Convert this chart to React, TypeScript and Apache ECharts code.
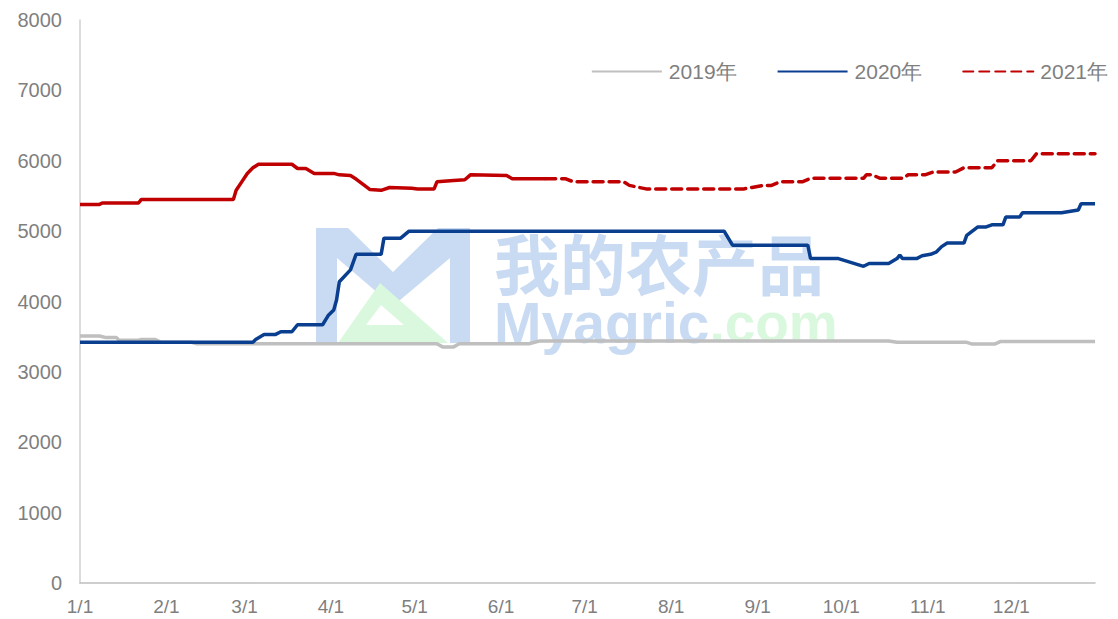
import React, { useEffect, useRef } from "react";
import * as echarts from "echarts";

const monthDays = [31, 28, 31, 30, 31, 30, 31, 31, 30, 31, 30, 31];
const categories: string[] = monthDays.flatMap((n, m) =>
  Array.from({ length: n }, (_, d) => `${m + 1}/${d + 1}`)
);

const yTicks = { min: 0, max: 8000, interval: 1000 };

const s2019: [number, number][] = [
  [0, 3510], [7, 3510], [9, 3490], [13, 3490], [14, 3450], [21, 3450], [22, 3460], [27, 3460],
  [29, 3420], [40, 3420], [42, 3400], [128, 3400], [130, 3355], [134, 3355], [136, 3400],
  [161, 3400], [163, 3420], [165, 3440], [290, 3440], [293, 3420], [318, 3420], [320, 3395],
  [328, 3395], [330, 3430], [364, 3430],
];

const s2020: [number, number][] = [
  [0, 3420], [62, 3420], [63, 3460], [66, 3530], [70, 3530], [72, 3570], [76, 3570], [78, 3670],
  [87, 3670], [89, 3800], [91, 3880], [92, 4020], [93, 4280], [97, 4450], [99, 4670], [108, 4670],
  [109, 4900], [115, 4900], [118, 5000], [231, 5000], [234, 4800], [261, 4800], [262, 4610],
  [272, 4610], [281, 4500], [283, 4540], [290, 4540], [293, 4610], [294, 4660], [295, 4610],
  [300, 4610], [302, 4650], [305, 4670], [307, 4700], [309, 4780], [311, 4830], [317, 4830],
  [318, 4940], [322, 5060], [325, 5060], [327, 5090], [331, 5090], [332, 5200], [337, 5200],
  [338, 5260], [352, 5260], [358, 5300], [359, 5390], [364, 5390],
];

const s2021Solid: [number, number][] = [
  [0, 5380], [7, 5380], [8, 5400], [21, 5400], [22, 5450], [55, 5450], [56, 5580], [58, 5700],
  [60, 5820], [62, 5900], [64, 5950], [76, 5950], [78, 5890], [81, 5890], [84, 5820], [91, 5820],
  [93, 5800], [97, 5790], [99, 5740], [102, 5650], [104, 5590], [108, 5580], [111, 5620],
  [119, 5610], [121, 5600], [127, 5600], [128, 5700], [134, 5720], [138, 5730], [140, 5800],
  [153, 5790], [155, 5745], [167, 5745],
];

const s2021Dashed: [number, number][] = [
  [167, 5745], [174, 5745], [177, 5700], [195, 5700], [197, 5650], [203, 5600], [238, 5600],
  [241, 5620], [245, 5650], [248, 5650], [251, 5700], [259, 5700], [262, 5750], [281, 5750],
  [282, 5800], [284, 5800], [287, 5750], [295, 5750], [297, 5800], [303, 5800], [306, 5840],
  [314, 5840], [317, 5900], [327, 5900], [329, 6000], [341, 6000], [343, 6100], [364, 6100],
];

const legendNames = ["2019年", "2020年", "2021年"];

const GREY = "#bfbfbf";
const BLUE = "#0a3f8f";
const RED = "#c00000";
const LABEL = "#7f7f7f";
const WM_BLUE = "#c9dbf3";
const WM_GREEN = "#d9f8de";

export default function App() {
  const ref = useRef<HTMLDivElement>(null);
  useEffect(() => {
    if (!ref.current) return;
    const chart = echarts.init(ref.current, null, { renderer: "svg" });
    chart.setOption({
      animation: false,
      backgroundColor: "#ffffff",
      grid: { left: 80, right: 23, top: 20, bottom: 36, containLabel: false },
      legend: {
        data: legendNames,
        right: 5,
        top: 56,
        itemWidth: 70,
        itemHeight: 14,
        itemGap: 40,
        itemStyle: { opacity: 0 },
        textStyle: {
          color: LABEL,
          fontSize: 21,
          fontFamily: "'Liberation Sans Narrow', 'Liberation Sans', sans-serif",
          padding: [0, 0, 0, 2],
        },
      },
      xAxis: {
        type: "category",
        data: categories,
        boundaryGap: false,
        axisLine: { lineStyle: { color: GREY, width: 1.5 } },
        axisTick: { show: false },
        splitLine: { show: false },
        axisLabel: {
          interval: (_i: number, v: string) => v.endsWith("/1"),
          color: LABEL,
          fontSize: 19,
          margin: 14,
          fontFamily: "'Liberation Sans', sans-serif",
        },
      },
      yAxis: {
        type: "value",
        min: yTicks.min,
        max: yTicks.max,
        interval: yTicks.interval,
        axisLine: { show: true, lineStyle: { color: "#d0d0d0", width: 1.5 } },
        axisTick: { show: false },
        splitLine: { show: false },
        axisLabel: {
          formatter: (v: number) => String(v),
          color: LABEL,
          fontSize: 20,
          margin: 18,
          fontFamily: "'Liberation Sans', sans-serif",
        },
      },
      graphic: [
        {
          type: "polygon",
          z: 0,
          shape: {
            points: [
              [316, 228], [348, 228], [393, 272], [438, 228], [470, 228], [470, 343], [450, 343],
              [450, 258], [393, 306], [337, 258], [337, 343], [316, 343],
            ],
          },
          style: { fill: WM_BLUE },
        },
        {
          type: "polygon",
          z: 0,
          shape: { points: [[338, 343], [380, 283], [448, 343]] },
          style: { fill: WM_GREEN },
        },
        {
          type: "polygon",
          z: 0,
          shape: { points: [[366, 325], [381, 305], [404, 325]] },
          style: { fill: "#ffffff" },
        },
        {
          type: "text",
          z: 0,
          x: 494,
          y: 226,
          style: {
            text: "{cn|我的农产品}\n{a|Myagric}{b|.com}",
            verticalAlign: "top",
            align: "left",
            rich: {
              cn: {
                fill: WM_BLUE,
                fontSize: 66,
                lineHeight: 70,
                fontWeight: "bold",
                fontFamily: "'Noto Sans CJK SC', sans-serif",
              },
              a: {
                fill: WM_BLUE,
                fontSize: 57,
                lineHeight: 54,
                fontWeight: "bold",
                fontFamily: "'Liberation Sans', sans-serif",
              },
              b: {
                fill: WM_GREEN,
                fontSize: 55,
                lineHeight: 54,
                fontWeight: "bold",
                fontFamily: "'Liberation Sans', sans-serif",
              },
            },
          },
        },
      ],
      series: [
        {
          name: "2019年",
          type: "line",
          data: s2019,
          symbol: "none",
          lineStyle: { color: GREY, width: 3.5 },
          itemStyle: { color: GREY },
          z: 3,
        },
        {
          name: "2020年",
          type: "line",
          data: s2020,
          symbol: "none",
          lineStyle: { color: BLUE, width: 3.5 },
          itemStyle: { color: BLUE },
          z: 4,
        },
        {
          name: "2021年实际",
          type: "line",
          data: s2021Solid,
          symbol: "none",
          lineStyle: { color: RED, width: 3.5 },
          itemStyle: { color: RED },
          z: 5,
        },
        {
          name: "2021年",
          type: "line",
          data: s2021Dashed,
          symbol: "none",
          lineStyle: { color: RED, width: 3.5, type: [10, 6], cap: "round" },
          itemStyle: { color: RED },
          z: 5,
        },
      ],
    });
    return () => chart.dispose();
  }, []);
  return (
    <div
      ref={ref}
      style={{ position: "absolute", left: 0, top: 0, width: 1118, height: 619 }}
    />
  );
}
